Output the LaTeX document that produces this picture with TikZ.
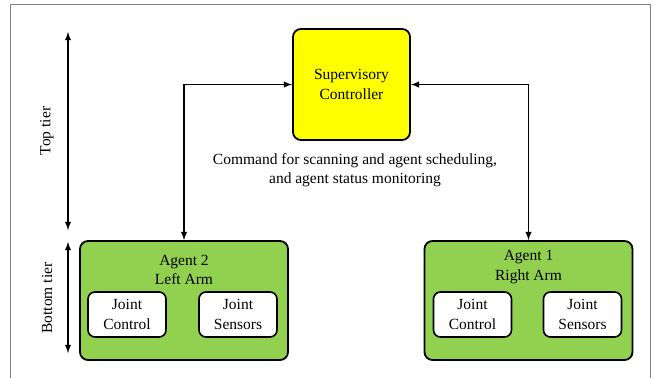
\documentclass[tikz,border=0pt]{standalone}
\usepackage{fontspec}
\setmainfont{Liberation Serif}
\usepackage{xcolor}
\usetikzlibrary{shapes}
\usetikzlibrary{positioning}
\definecolor{supyellow}{HTML}{FFFF00}
\definecolor{agentgreen}{HTML}{92D050}

\begin{document}
\begin{tikzpicture}[x=1pt,y=-1pt,font=\fontsize{15.5}{19.5}\selectfont]
        \tikzstyle{supervisor}=[rectangle,rounded corners=8pt,line width=1.8pt,draw=black,fill=supyellow,minimum width=117pt,minimum height=111pt,align=center]
        \tikzstyle{agent}=[rectangle,rounded corners=8pt,line width=1.8pt,draw=black,fill=agentgreen,minimum width=208pt,minimum height=119pt]
        \tikzstyle{joint}=[rectangle,rounded corners=7pt,line width=1.6pt,draw=black,fill=white,minimum width=78pt,minimum height=45pt,align=center,inner sep=1pt]
        \tikzstyle{edge}=[draw,line width=1.8pt,>=latex]
        \useasboundingbox (0,0) rectangle (658,378);
        % frame
        \draw[gray,line width=1pt] (10,378) -- (10,4) -- (650,4) -- (650,378);
       \begin{scope}
         \node [supervisor] (sup) at (351.5,84.5) {Supervisory\\Controller};
         \node [align=center] (cmd) at (355,170) {Command for scanning and agent scheduling,\\and agent status monitoring};
         \node [agent] (a2) at (184,300.5) {};
         \node [align=center] (a2lbl) at (184,270) {Agent 2\\Left Arm};
         \node [joint] (a2ctl) at (127,314.5) {Joint\\Control};
         \node [joint] (a2sen) at (238,314.5) {Joint\\Sensors};
         \node [agent] (a1) at (528.5,300.5) {};
         \node [align=center] (a1lbl) at (528.5,267) {Agent 1\\Right Arm};
         \node [joint] (a1ctl) at (472.5,314.5) {Joint\\Control};
         \node [joint] (a1sen) at (582.5,314.5) {Joint\\Sensors};
         \path[edge,<->] (sup.west) -| (a2.north);
         \path[edge,<->] (sup.east) -| (a1.north);
        \end{scope}
        % tiers
        \coordinate (tt1) at (68,32);
        \coordinate (tt2) at (68,230);
        \coordinate (bt1) at (68,242);
        \coordinate (bt2) at (68,353);
        \path[edge,<->] (tt1) -- (tt2);
        \path[edge,<->] (bt1) -- (bt2);
        \node [rotate=90] (toplbl) at (47,131) {Top tier};
        \node [rotate=90] (botlbl) at (47,298) {Bottom tier};
      \end{tikzpicture}
\end{document}
